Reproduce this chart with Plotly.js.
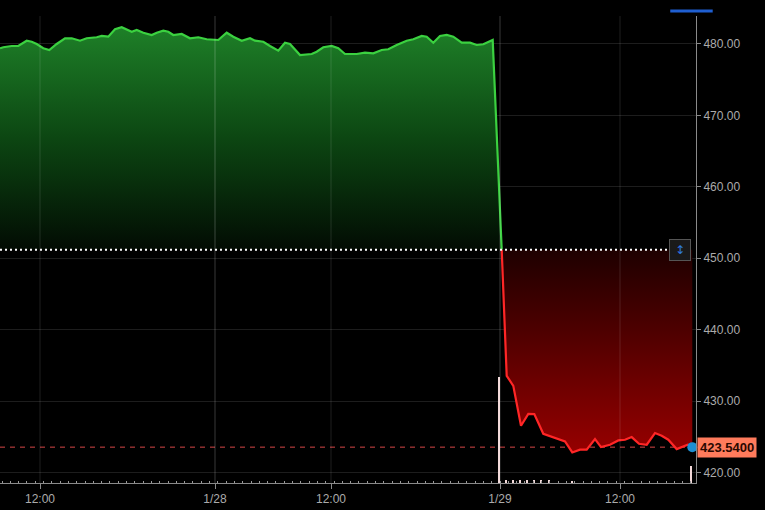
<!DOCTYPE html>
<html>
<head>
<meta charset="utf-8">
<script src="https://cdn.plot.ly/plotly-3.0.1.min.js"></script>
<style>html,body{margin:0;padding:0;background:#000;}#chart{width:765px;height:510px;}</style>
</head>
<body>
<div id="chart"></div>
<script>
// ---- data (x = position on the intraday trading-time axis) ----
const prevClose = 451.17;
const lastPrice = 423.54;

const greenX = [0,3.3,11.7,18.3,26.7,31.7,36.7,43.3,49.3,56.7,65,71.7,80,86.7,96.7,101.7,108.3,115,121.7,126.7,131.7,136.7,143.3,151.7,156.7,163.3,168.3,173.3,181.7,190,198.3,206.7,218.3,226.7,233.3,241.7,250,255,263.3,270,278.3,285,290,300,311.7,316.7,323.3,331.7,338.3,345,356.7,365,373.3,381.7,388.3,396.7,406.7,413.3,421.7,426.7,433.3,440,446.7,453.3,461.7,470,476.7,483.3,492.7,501.7];
const greenY = [479.40,479.54,479.72,479.72,480.46,480.32,480.00,479.40,479.16,480.00,480.80,480.80,480.46,480.80,480.94,481.12,481.02,482.06,482.34,482.06,481.72,481.96,481.58,481.26,481.58,481.86,481.72,481.26,481.40,480.80,480.94,480.66,480.56,481.58,481.02,480.46,480.80,480.46,480.32,479.72,479.06,480.18,480.00,478.46,478.60,478.92,479.54,479.72,479.40,478.60,478.60,478.78,478.70,479.16,479.26,479.86,480.46,480.66,481.12,481.02,480.18,481.12,481.26,481.02,480.18,480.18,479.86,479.96,480.56,451.17];

const redX = [501.7,506.7,513.3,521,528.3,534.3,543.3,553.3,565,572.3,580,586.7,595,601,610,618.3,625,631.7,639,646.7,655,661.7,668.3,676.7,682.3,687.7,692.3];
const redY = [451.17,433.53,432.13,426.53,428.21,428.17,425.41,424.95,424.33,422.80,423.18,423.18,424.68,423.55,423.88,424.48,424.58,424.95,424.02,423.88,425.52,425.14,424.58,423.27,423.55,423.88,423.54];

const volX = [499,506,512.7,520,527,534,541,549,572,690.5];
const volY = [11.35,0.32,0.3,0.3,0.28,0.28,0.28,0.28,0.25,1.85];

const xTickVals = [40,215,331,500,620];
const xTickText = ['12:00','1/28','12:00','1/29','12:00'];
const dayTickVals = [215,500];
const yTickVals = [420,430,440,450,460,470,480];

// ---- traces ----
const gx0 = greenX[0], gx1 = greenX[greenX.length-1];
const rx0 = redX[0], rx1 = redX[redX.length-1];

const traces = [
  {x:[gx0,gx1], y:[prevClose,prevClose], mode:'lines', line:{width:0,color:'rgba(0,0,0,0)'}, hoverinfo:'skip', showlegend:false},
  {x:greenX, y:greenY, mode:'lines', line:{color:'#3bd140', width:2.2}, fill:'tonexty',
   fillgradient:{type:'vertical', start:prevClose, stop:Math.max(...greenY),
     colorscale:[[0,'rgb(2,12,3)'],[0.5,'rgb(12,70,18)'],[1,'rgb(30,128,40)']]},
   showlegend:false},
  {x:[rx0,rx1], y:[prevClose,prevClose], mode:'lines', line:{width:0,color:'rgba(0,0,0,0)'}, hoverinfo:'skip', showlegend:false},
  {x:redX, y:redY, mode:'lines', line:{color:'#ff2626', width:2.2}, fill:'tonexty',
   fillgradient:{type:'vertical', start:Math.min(...redY), stop:prevClose,
     colorscale:[[0,'rgb(150,0,0)'],[1,'rgb(30,0,0)']]},
   showlegend:false},
  {x:volX, y:volY, type:'bar', yaxis:'y2', width:2, marker:{color:'#f3d9d9', line:{width:0}}, showlegend:false},
  {x:[rx1], y:[lastPrice], mode:'markers', marker:{color:'#1e8fd2', size:10}, cliponaxis:false, showlegend:false}
];

// ---- shapes ----
const shapes = [];
xTickVals.forEach(v => {
  const isDay = dayTickVals.includes(v);
  shapes.push({type:'line', xref:'x', yref:'paper', x0:v, x1:v, y0:0, y1:1,
    line:{color: isDay ? 'rgba(255,255,255,0.22)' : 'rgba(255,255,255,0.12)', width:1}, layer:'above'});
});
shapes.push({type:'line', xref:'x', yref:'y', x0:0, x1:692, y0:lastPrice, y1:lastPrice,
  line:{color:'rgba(225,75,75,0.95)', width:1, dash:'5px,5px'}, layer:'below'});
shapes.push({type:'line', xref:'x', yref:'y', x0:0, x1:669, y0:prevClose, y1:prevClose,
  line:{color:'#ffffff', width:2, dash:'2px,3px'}, layer:'above'});
shapes.push({type:'line', xref:'paper', yref:'paper', x0:0.963, x1:1.024, y0:1.0107, y1:1.0107,
  line:{color:'#1f5fd1', width:3}});

// ---- annotations ----
const annotations = [
  {xref:'paper', x:1, xanchor:'left', xshift:1, yref:'y', y:lastPrice, yanchor:'middle',
   text:'<b>'+lastPrice.toFixed(4)+'</b>', showarrow:false, bgcolor:'#ff7b5c', borderpad:2,
   font:{family:'Arial', size:13, color:'#2b0800'}},
  {xref:'x', x:680, yref:'y', y:prevClose, text:'↕', showarrow:false, bgcolor:'#1a1a1a',
   bordercolor:'#555555', borderwidth:1, borderpad:2, width:16, height:16,
   font:{family:'DejaVu Sans', size:12, color:'#2f7be0'}}
];

const axisFont = {family:'Arial', size:12, color:'#ababab'};

const layout = {
  width:765, height:510,
  margin:{l:0, r:69, t:16, b:27},
  paper_bgcolor:'#000', plot_bgcolor:'#000',
  showlegend:false,
  xaxis:{range:[0,696], tickmode:'array', tickvals:xTickVals, ticktext:xTickText,
    showgrid:false, zeroline:false, showline:true, linecolor:'#8a8a8a', linewidth:1,
    ticks:'outside', ticklen:5, tickcolor:'#8a8a8a', tickfont:axisFont,
    minor:{tickmode:'linear', tick0:2, dtick:8.3, ticks:'inside', ticklen:2, tickcolor:'#9a9a9a', showgrid:false}},
  yaxis:{range:[418.52,483.92], side:'right', tickmode:'array', tickvals:yTickVals, tickformat:'.2f',
    showgrid:true, gridcolor:'#1d1d1d', zeroline:false, showline:true, linecolor:'#8a8a8a', linewidth:1,
    ticks:'outside', ticklen:4, tickcolor:'#8a8a8a', tickfont:axisFont},
  yaxis2:{overlaying:'y', range:[0,50], visible:false, showgrid:false, zeroline:false},
  bargap:0,
  shapes:shapes,
  annotations:annotations
};

Plotly.newPlot('chart', traces, layout, {displayModeBar:false, staticPlot:true});
</script>
</body>
</html>
